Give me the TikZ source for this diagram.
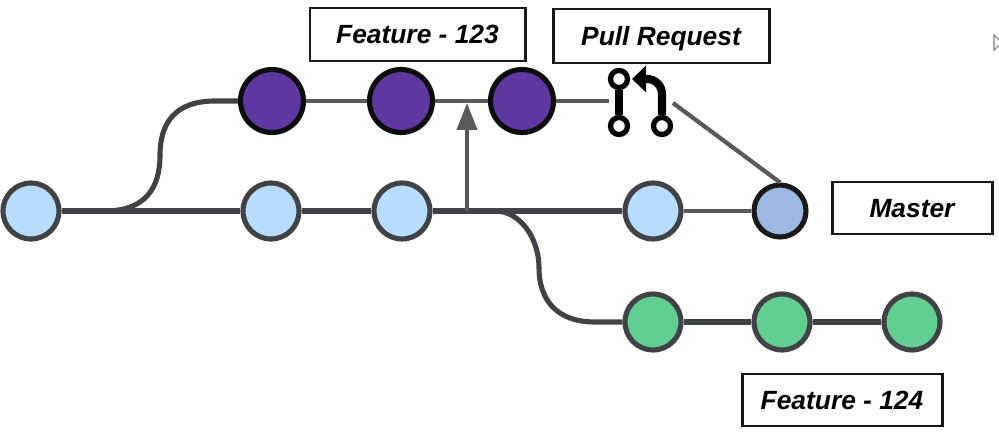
\documentclass[tikz,border=0pt]{standalone}
\usepackage{fontspec}
\setmainfont{Liberation Sans}
\usetikzlibrary{arrows.meta,positioning,calc}
\definecolor{lightblue}{HTML}{B7DCFD}
\definecolor{mergeblue}{HTML}{9DB9E2}
\definecolor{commitpurple}{HTML}{5E37A0}
\definecolor{commitgreen}{HTML}{62CF92}
\definecolor{darkline}{HTML}{404245}
\definecolor{greyline}{HTML}{5A5A5A}

\begin{document}
\begin{tikzpicture}[
    box/.style={draw=black!90, line width=1.7pt, fill=white, inner sep=0pt, text height=10.8pt, text depth=0pt, font=\fontsize{15}{18}\selectfont\bfseries\itshape},
    commit/.style={circle, draw=darkline, line width=2.9pt, minimum size=1.12cm, inner sep=0pt, fill=lightblue},
    feature/.style={commit, draw=black!95, fill=commitpurple, minimum size=1.26cm},
    prdot/.style={circle, draw=black, line width=3pt, minimum size=0.34cm, inner sep=0pt, fill=white},
    thick line/.style={line width=2.9pt, darkline},
    thin line/.style={line width=2.4pt, greyline},
    pr line/.style={line width=4.6pt, black},
]
\useasboundingbox (0,0) rectangle (19.98,8.66);

% Master
\node[commit] (m1) at (0.62,4.44) {};
\node[commit] (m2) at (5.42,4.44) {};
\node[commit] (m3) at (8.04,4.44) {};
\node[commit] (m4) at (13.06,4.44) {};
\node[commit, draw=black!90, fill=mergeblue, minimum size=1.04cm] (merge) at (15.6,4.44) {};

% Feature 123
\node[feature] (p1) at (5.44,6.64) {};
\node[feature] (p2) at (8.02,6.64) {};
\node[feature] (p3) at (10.44,6.64) {};

% Feature 124
\node[commit, fill=commitgreen] (g1) at (13.06,2.22) {};
\node[commit, fill=commitgreen] (g2) at (15.64,2.22) {};
\node[commit, fill=commitgreen] (g3) at (18.24,2.22) {};

% Labels
\node[box, minimum width=4.3cm, minimum height=1.06cm] (f123) at (8.35,7.97) {Feature - 123};
\node[box, minimum width=4.32cm, minimum height=1.08cm] (pr) at (13.22,7.94) {Pull Request};
\node[box, minimum width=3.2cm, minimum height=1.04cm] (master) at (18.24,4.5) {Master};
\node[box, minimum width=4cm, minimum height=1.04cm] (f124) at (16.84,0.66) {Feature - 124};

% Pull request icon
\node[prdot] (prtop) at (12.38,7.08) {};
\node[prdot] (prleft) at (12.38,6.14) {};
\node[prdot] (prright) at (13.24,6.14) {};
\coordinate (prtip) at (12.64,7.08);
\coordinate (prbend) at (13.24,7.08);
\coordinate (prin) at (12.18,6.64);
\coordinate (prout) at (13.46,6.6);
\draw[pr line] (prtop) -- (prleft);
\draw[pr line, rounded corners=0.3cm, -{Triangle[length=0.28cm,width=0.52cm]}] (prright) -- (prbend) -- (prtip);

% Branch points
\coordinate (fork1) at (2.1,4.44);
\coordinate (fork2) at (9.9,4.44);
\coordinate (up) at (9.34,4.44);
\coordinate (uptip) at (9.34,6.6);

% Arrows
\draw[thick line] (m1) -- (m2);
\draw[thick line] (m2) -- (m3);
\draw[thick line] (m3) -- (m4);
\draw[thin line] (m4) -- (merge);
\draw[thin line] (p1) -- (p2);
\draw[thin line] (p2) -- (p3);
\draw[thin line] (p3) -- (prin);
\draw[thin line] (prout) -- (merge.north);
\draw[thin line, -{Triangle[length=0.54cm,width=0.4cm]}] (up) -- (uptip);
\draw[thick line] (fork1) .. controls (2.9,4.44) and (3.2,4.9) .. (3.2,5.55) .. controls (3.2,6.2) and (3.5,6.64) .. (4.3,6.64) -- (p1);
\draw[thick line] (fork2) .. controls (10.4,4.44) and (10.78,3.9) .. (10.78,3.3) .. controls (10.78,2.7) and (11.1,2.22) .. (11.9,2.22) -- (g1);
\draw[thick line] (g1) -- (g2);
\draw[thick line] (g2) -- (g3);

% Cursor at the edge
\draw[line width=0.6pt, gray] (19.98,7.86) -- (19.88,7.96) -- (19.88,7.66) -- (19.98,7.76);
\end{tikzpicture}
\end{document}
